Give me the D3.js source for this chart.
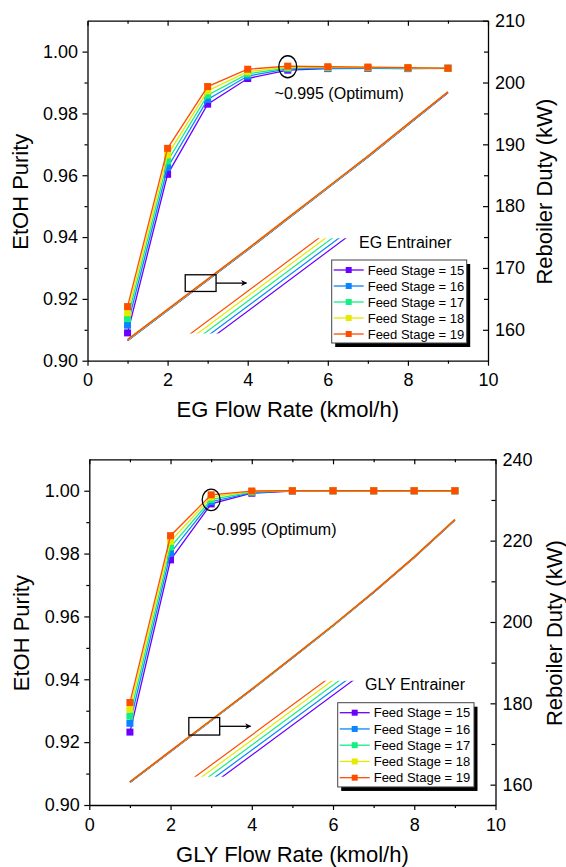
<!DOCTYPE html>
<html>
<head>
<meta charset="utf-8">
<script src="https://cdn.jsdelivr.net/npm/d3@7"></script>
<style>
body { margin: 0; background: #fff; }
svg text { font-family: "Liberation Sans", Arial, sans-serif; fill: #000; }
</style>
</head>
<body>
<svg id="chart" width="566" height="867"></svg>
<script>
// ---- data ----
const flow = [1, 2, 3, 4, 5, 6, 7, 8, 9];
const stages = [15, 16, 17, 18, 19];
const stageColors = ["#6a00ff", "#0a84ff", "#14ee84", "#e4ea00", "#ff4d00"];

const flowTicks = [0, 2, 4, 6, 8, 10];
const flowMinor = [1, 3, 5, 7, 9];
const purityTicks = [0.90, 0.92, 0.94, 0.96, 0.98, 1.00];
const purityMinor = [0.91, 0.93, 0.95, 0.97, 0.99];

// EG entrainer
const egPurity15 = [0.9090, 0.9603, 0.9830, 0.9913, 0.9940, 0.9945, 0.9946, 0.9945, 0.9946];
const egPurity16 = [0.9115, 0.9625, 0.9845, 0.9921, 0.9944, 0.9946, 0.9947, 0.9946, 0.9946];
const egPurity17 = [0.9136, 0.9646, 0.9859, 0.9928, 0.9947, 0.9948, 0.9948, 0.9947, 0.9946];
const egPurity18 = [0.9155, 0.9666, 0.9873, 0.9935, 0.9950, 0.9950, 0.9949, 0.9948, 0.9946];
const egPurity19 = [0.9175, 0.9687, 0.9887, 0.9943, 0.9953, 0.9951, 0.9950, 0.9948, 0.9946];
const egDuty15 = [158.24, 163.14, 168.04, 172.94, 177.94, 182.94, 187.94, 193.14, 198.34];
const egDuty16 = [158.28, 163.18, 168.08, 172.98, 177.98, 182.98, 187.98, 193.18, 198.38];
const egDuty17 = [158.32, 163.22, 168.12, 173.02, 178.02, 183.02, 188.02, 193.22, 198.42];
const egDuty18 = [158.36, 163.26, 168.16, 173.06, 178.06, 183.06, 188.06, 193.26, 198.46];
const egDuty19 = [158.40, 163.30, 168.20, 173.10, 178.10, 183.10, 188.10, 193.30, 198.50];
const egDutyTicks = [160, 170, 180, 190, 200, 210];
const egDutyMinor = [165, 175, 185, 195, 205];

// GLY entrainer
const glyPurity15 = [0.9232, 0.9780, 0.9958, 0.9992, 0.9999, 1.0000, 1.0000, 1.0000, 1.0000];
const glyPurity16 = [0.9260, 0.9802, 0.9965, 0.9994, 1.0000, 1.0000, 1.0000, 1.0000, 1.0000];
const glyPurity17 = [0.9283, 0.9821, 0.9972, 0.9996, 1.0000, 1.0000, 1.0000, 1.0000, 1.0000];
const glyPurity18 = [0.9305, 0.9839, 0.9980, 0.9998, 1.0000, 1.0000, 1.0000, 1.0000, 1.0000];
const glyPurity19 = [0.9326, 0.9857, 0.9987, 0.9999, 1.0000, 1.0000, 1.0000, 1.0000, 1.0000];
const glyDuty15 = [160.54, 168.14, 175.74, 183.34, 191.14, 199.04, 207.24, 215.84, 225.04];
const glyDuty16 = [160.58, 168.18, 175.78, 183.38, 191.18, 199.08, 207.28, 215.88, 225.08];
const glyDuty17 = [160.62, 168.22, 175.82, 183.42, 191.22, 199.12, 207.32, 215.92, 225.12];
const glyDuty18 = [160.66, 168.26, 175.86, 183.46, 191.26, 199.16, 207.36, 215.96, 225.16];
const glyDuty19 = [160.70, 168.30, 175.90, 183.50, 191.30, 199.20, 207.40, 216.00, 225.20];
const glyDutyTicks = [160, 180, 200, 220, 240];
const glyDutyMinor = [170, 190, 210, 230];

// ---- layout ----
const panels = [
  {
    id: "eg", left: 87.5, right: 488, top: 20.7, bottom: 360.7,
    purity: [egPurity15, egPurity16, egPurity17, egPurity18, egPurity19],
    duty: [egDuty15, egDuty16, egDuty17, egDuty18, egDuty19],
    dutyDomain: [155, 210], dutyTicks: egDutyTicks, dutyMinor: egDutyMinor,
    xTitle: "EG Flow Rate (kmol/h)", xTitleY: 417, leftTitleX: 28, rightTitleX: 552,
    optimum: [5, 0.9951], ellipse: [9, 11], optText: [4.67, 0.9848],
    entrainer: "EG Entrainer", entrainerPos: [6.78, 0.9365],
    box: [2.44, 3.21, 166.2, 168.9], arrowTo: 3.97,
    insetCenter: [4.51, 167.1], insetKx: 820, insetKy: 124.7, insetHalf: 47.7,
    legend: { x: 331.7, y: 260, w: 135, rowH: 16 }
  },
  {
    id: "gly", left: 89.3, right: 495.5, top: 459.3, bottom: 805,
    purity: [glyPurity15, glyPurity16, glyPurity17, glyPurity18, glyPurity19],
    duty: [glyDuty15, glyDuty16, glyDuty17, glyDuty18, glyDuty19],
    dutyDomain: [155, 240], dutyTicks: glyDutyTicks, dutyMinor: glyDutyMinor,
    xTitle: "GLY Flow Rate (kmol/h)", xTitleY: 862, leftTitleX: 29, rightTitleX: 562,
    optimum: [3, 0.9971], ellipse: [9, 10.7], optText: [2.90, 0.9858],
    entrainer: "GLY Entrainer", entrainerPos: [6.79, 0.9366],
    box: [2.45, 3.21, 172.2, 176.5], arrowTo: 3.97,
    insetCenter: [4.545, 173.76], insetKx: 1293, insetKy: 125.6, insetHalf: 48,
    legend: { x: 337.7, y: 702.7, w: 136.3, rowH: 16.25 }
  }
];

const svg = d3.select("#chart");
const defs = svg.append("defs");
defs.append("marker")
  .attr("id", "arrowHead")
  .attr("viewBox", "0 0 10 10")
  .attr("refX", 9).attr("refY", 5)
  .attr("markerWidth", 7).attr("markerHeight", 6)
  .attr("markerUnits", "userSpaceOnUse")
  .attr("orient", "auto")
  .append("path")
    .attr("d", "M0,0L10,5L0,10L3,5Z")
    .attr("fill", "#000");

function styleAxis(sel, fontSize) {
  sel.select(".domain").attr("stroke", "#000").attr("stroke-width", 1.3);
  sel.selectAll(".tick line").attr("stroke", "#000").attr("stroke-width", 1.2);
  sel.selectAll(".tick text").style("font-size", fontSize + "px").attr("fill", "#000");
  sel.attr("font-family", null);
}

function drawPanel(cfg) {
  const g = svg.append("g").attr("class", "panel-" + cfg.id);

  const x = d3.scaleLinear().domain([0, 10]).range([cfg.left, cfg.right]);
  const yL = d3.scaleLinear().domain([0.90, 1.01]).range([cfg.bottom, cfg.top]);
  const yR = d3.scaleLinear().domain(cfg.dutyDomain).range([cfg.bottom, cfg.top]);

  // axes
  const bot = g.append("g").attr("transform", `translate(0,${cfg.bottom})`)
    .call(d3.axisBottom(x).tickValues(flowTicks).tickSize(5).tickSizeOuter(0).tickPadding(8).tickFormat(d3.format("d")));
  styleAxis(bot, 18);
  const botMinor = g.append("g").attr("transform", `translate(0,${cfg.bottom})`)
    .call(d3.axisBottom(x).tickValues(flowMinor).tickSize(3).tickFormat(""));
  botMinor.select(".domain").remove();
  styleAxis(botMinor, 18);

  const topAx = g.append("g").attr("transform", `translate(0,${cfg.top})`)
    .call(d3.axisTop(x).tickValues(flowTicks).tickSize(-5).tickSizeOuter(0).tickFormat(""));
  styleAxis(topAx, 18);
  const topMinor = g.append("g").attr("transform", `translate(0,${cfg.top})`)
    .call(d3.axisTop(x).tickValues(flowMinor).tickSize(-3).tickFormat(""));
  topMinor.select(".domain").remove();
  styleAxis(topMinor, 18);

  const leftAx = g.append("g").attr("transform", `translate(${cfg.left},0)`)
    .call(d3.axisLeft(yL).tickValues(purityTicks).tickSize(5).tickSizeOuter(0).tickPadding(4.5).tickFormat(d3.format(".2f")));
  styleAxis(leftAx, 18);
  const leftMinor = g.append("g").attr("transform", `translate(${cfg.left},0)`)
    .call(d3.axisLeft(yL).tickValues(purityMinor).tickSize(3).tickFormat(""));
  leftMinor.select(".domain").remove();
  styleAxis(leftMinor, 18);

  const rightAx = g.append("g").attr("transform", `translate(${cfg.right},0)`)
    .call(d3.axisRight(yR).tickValues(cfg.dutyTicks).tickSize(-5).tickSizeOuter(0).tickPadding(7).tickFormat(d3.format("d")));
  styleAxis(rightAx, 18);
  const rightMinor = g.append("g").attr("transform", `translate(${cfg.right},0)`)
    .call(d3.axisRight(yR).tickValues(cfg.dutyMinor).tickSize(-4).tickFormat(""));
  rightMinor.select(".domain").remove();
  styleAxis(rightMinor, 18);

  // titles
  g.append("text")
    .attr("x", (cfg.left + cfg.right) / 2).attr("y", cfg.xTitleY)
    .attr("text-anchor", "middle").style("font-size", "22px")
    .text(cfg.xTitle);
  g.append("text")
    .attr("transform", `translate(${cfg.leftTitleX},${(cfg.top + cfg.bottom) / 2 + 1}) rotate(-90)`)
    .attr("text-anchor", "middle").style("font-size", "22px")
    .text("EtOH Purity");
  g.append("text")
    .attr("transform", `translate(${cfg.rightTitleX},${(cfg.top + cfg.bottom) / 2 + 1}) rotate(-90)`)
    .attr("text-anchor", "middle").style("font-size", "22px")
    .text("Reboiler Duty (kW)");

  // reboiler duty lines
  const dutyLine = d3.line().x((d, i) => x(flow[i])).y(d => yR(d));
  g.append("g").selectAll("path")
    .data(cfg.duty)
    .enter().append("path")
      .attr("fill", "none")
      .attr("stroke", (d, i) => stageColors[i])
      .attr("stroke-width", 1.5)
      .attr("d", dutyLine);

  // zoomed inset of the duty lines
  const focusX = 2.83;
  const dutyAtFocus = d3.scaleLinear().domain(flow).range(cfg.duty[2])(focusX);
  const cx = x(cfg.insetCenter[0]), cy = yR(cfg.insetCenter[1]);
  const ix = d3.scaleLinear().domain([focusX, focusX + 1]).range([cx, cx + cfg.insetKx]);
  const iy = d3.scaleLinear().domain([dutyAtFocus, dutyAtFocus + 1]).range([cy, cy - cfg.insetKy]);
  defs.append("clipPath").attr("id", "inset-" + cfg.id)
    .append("rect")
      .attr("x", cfg.left).attr("width", cfg.right - cfg.left)
      .attr("y", cy - cfg.insetHalf).attr("height", 2 * cfg.insetHalf);
  const insetLine = d3.line().x((d, i) => ix(flow[i])).y(d => iy(d));
  g.append("g").attr("clip-path", `url(#inset-${cfg.id})`)
    .selectAll("path")
    .data(cfg.duty)
    .enter().append("path")
      .attr("fill", "none")
      .attr("stroke", (d, i) => stageColors[i])
      .attr("stroke-width", 1.2)
      .attr("d", insetLine);

  // box + arrow
  const b = cfg.box;
  g.append("rect")
    .attr("x", x(b[0])).attr("y", yR(b[3]))
    .attr("width", x(b[1]) - x(b[0])).attr("height", yR(b[2]) - yR(b[3]))
    .attr("fill", "none").attr("stroke", "#000").attr("stroke-width", 1.3);
  g.append("line")
    .attr("x1", x(b[1])).attr("x2", x(cfg.arrowTo))
    .attr("y1", yR((b[2] + b[3]) / 2)).attr("y2", yR((b[2] + b[3]) / 2))
    .attr("stroke", "#000").attr("stroke-width", 1.3)
    .attr("marker-end", "url(#arrowHead)");

  // purity lines + square markers
  const purLine = d3.line().x((d, i) => x(flow[i])).y(d => yL(d));
  cfg.purity.forEach(function(series, s) {
    g.append("path")
      .attr("fill", "none")
      .attr("stroke", stageColors[s])
      .attr("stroke-width", 1.3)
      .attr("d", purLine(series));
    g.append("g").selectAll("rect")
      .data(series)
      .enter().append("rect")
        .attr("x", (d, i) => x(flow[i]) - 3.5)
        .attr("y", d => yL(d) - 3.5)
        .attr("width", 7).attr("height", 7)
        .attr("fill", stageColors[s]);
  });

  // optimum annotation
  g.append("ellipse")
    .attr("cx", x(cfg.optimum[0])).attr("cy", yL(cfg.optimum[1]))
    .attr("rx", cfg.ellipse[0]).attr("ry", cfg.ellipse[1])
    .attr("fill", "none").attr("stroke", "#000").attr("stroke-width", 1.3);
  g.append("text")
    .attr("x", x(cfg.optText[0])).attr("y", yL(cfg.optText[1]))
    .style("font-size", "16px")
    .text("~0.995 (Optimum)");

  g.append("text")
    .attr("x", x(cfg.entrainerPos[0])).attr("y", yL(cfg.entrainerPos[1]))
    .style("font-size", "16px")
    .text(cfg.entrainer);

  // legend
  const L = cfg.legend;
  const lh = L.rowH * stages.length + 3;
  g.append("rect")
    .attr("x", L.x + 3.5).attr("y", L.y + 4)
    .attr("width", L.w).attr("height", lh)
    .attr("fill", "#000");
  g.append("rect")
    .attr("x", L.x).attr("y", L.y)
    .attr("width", L.w).attr("height", lh)
    .attr("fill", "#fff").attr("stroke", "#444").attr("stroke-width", 1);
  const rows = g.append("g").selectAll("g")
    .data(stages)
    .enter().append("g")
      .attr("transform", (d, i) => `translate(${L.x},${L.y + 10 + i * L.rowH})`);
  rows.append("line")
    .attr("x1", 2).attr("x2", 32)
    .attr("stroke", (d, i) => stageColors[i]).attr("stroke-width", 1.3);
  rows.append("rect")
    .attr("x", 14).attr("y", -3).attr("width", 6).attr("height", 6)
    .attr("fill", (d, i) => stageColors[i]);
  rows.append("text")
    .attr("x", 36).attr("y", 4.6)
    .style("font-size", "13px")
    .text(d => "Feed Stage = " + d);
}

panels.forEach(drawPanel);
</script>
</body>
</html>
